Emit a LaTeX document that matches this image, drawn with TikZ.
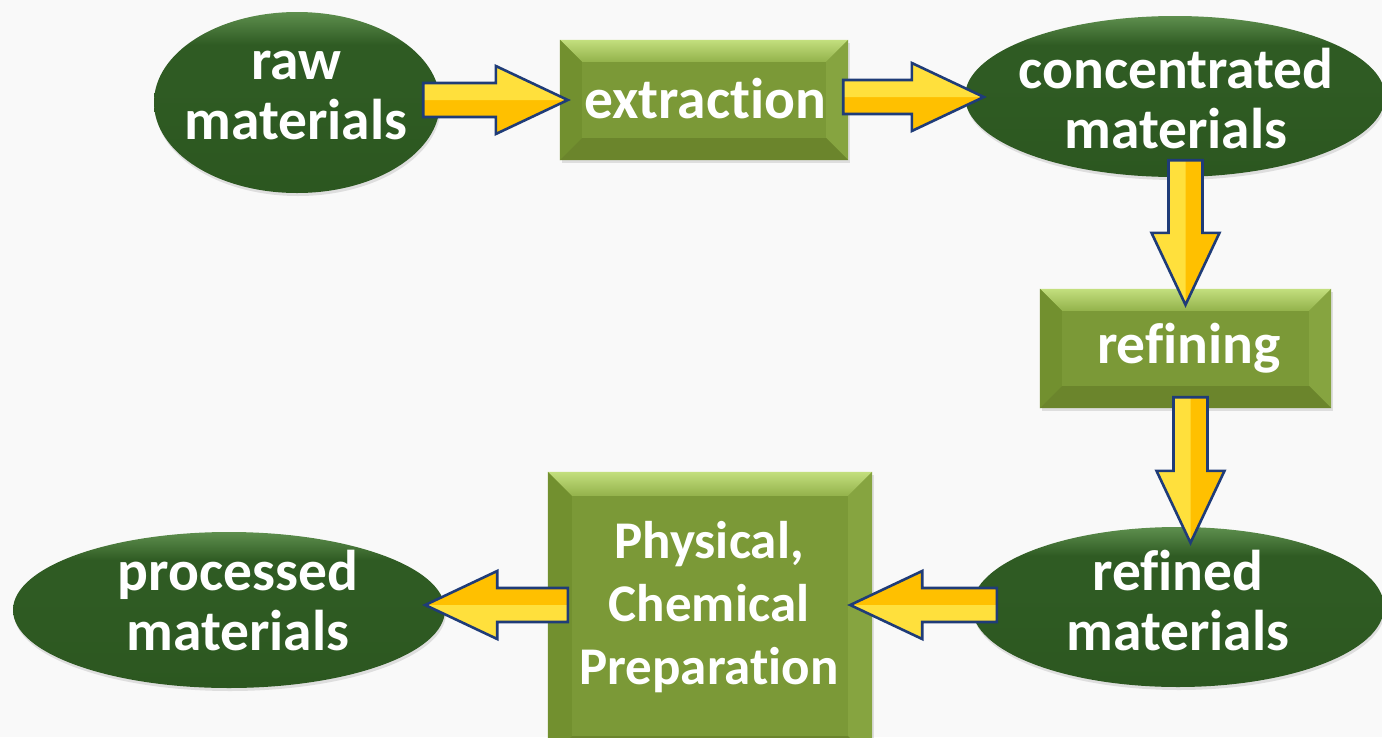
\documentclass[tikz,border=0pt]{standalone}
\usepackage{fontspec}
\setmainfont{Carlito}[RawFeature={-liga;-clig;-dlig}]
\usetikzlibrary{calc,shapes.geometric,shadows}
\definecolor{bg}{HTML}{F9F9F9}
\definecolor{ovtop}{HTML}{5E8F4E}
\definecolor{ovmid}{HTML}{2F5B23}
\definecolor{ovbot}{HTML}{2C5720}
\definecolor{boxface}{HTML}{7B9937}
\definecolor{boxtopA}{HTML}{C3DF7E}
\definecolor{boxtopB}{HTML}{93B24B}
\definecolor{boxleft}{HTML}{72902F}
\definecolor{boxright}{HTML}{86A440}
\definecolor{boxbot}{HTML}{6B852C}
\definecolor{argold}{HTML}{FFC000}
\definecolor{arlight}{HTML}{FFE03C}
\definecolor{arnavy}{HTML}{1F3C78}
\pgfdeclareverticalshading{ovsh}{100bp}{color(0bp)=(ovbot); color(25bp)=(ovbot); color(55bp)=(ovmid); color(66bp)=(ovmid); color(75bp)=(ovtop); color(100bp)=(ovtop)}
\newcommand\baPath[2]{($(#1)!17pt!90:(#2)$) -- ($(bah)!17pt!90:(#2)$) -- ($(bah)!34pt!90:(#2)$) -- (#2) -- ($(bah)!34pt!-90:(#2)$) -- ($(bah)!17pt!-90:(#2)$) -- ($(#1)!17pt!-90:(#2)$) -- cycle}
\newcommand\blockarr[3]{%
  \coordinate (bah) at ($(#2)!72pt!(#1)$);
  \fill[argold] \baPath{#1}{#2};
  \fill[arlight] (#1) -- ($(#1)!17pt!#3:(#2)$) -- ($(bah)!17pt!#3:(#2)$) -- ($(bah)!34pt!#3:(#2)$) -- (#2) -- cycle;
  \draw[arline] \baPath{#1}{#2};
}
\newcommand\bevel[2]{%
  \shade[top color=boxtopA, bottom color=boxtopB] (#1.north west) -- (#1.north east) -- ($(#1.north east)+(-#2,#2)$) -- ($(#1.north west)+(#2,#2)$) -- cycle;
  \fill[boxleft] (#1.north west) -- ($(#1.north west)+(#2,#2)$) -- ($(#1.south west)+(#2,-#2)$) -- (#1.south west) -- cycle;
  \fill[boxright] (#1.north east) -- ($(#1.north east)+(-#2,#2)$) -- ($(#1.south east)+(-#2,-#2)$) -- (#1.south east) -- cycle;
  \fill[boxbot] (#1.south west) -- ($(#1.south west)+(#2,-#2)$) -- ($(#1.south east)+(-#2,-#2)$) -- (#1.south east) -- cycle;
}
\newcommand\topstrut{\rule{0pt}{50pt}}
\begin{document}
\begin{tikzpicture}[x=1pt,y=-1pt,
  oval/.style={ellipse, inner sep=0pt, shading=ovsh,
    drop shadow={opacity=0.22, shadow xshift=1pt, shadow yshift=-3pt}},
  box/.style={rectangle, inner sep=0pt, fill=boxface,
    drop shadow={opacity=0.22, shadow xshift=2pt, shadow yshift=-3pt}},
  lbl/.style={text=white, inner sep=0pt, align=center, anchor=north,
    font=\fontsize{57.5}{60}\selectfont\bfseries},
  lblwide/.style={lbl, font=\fontsize{53}{63}\selectfont\bfseries},
  arline/.style={draw=arnavy, line width=2.6pt, line join=miter},
]
\useasboundingbox (0,0) rectangle (1382,737);
\fill[bg] (0,0) rectangle (1382,737);
\clip (0,0) rectangle (1382,737);

% shapes
\node[oval, minimum width=286pt, minimum height=181pt] (raw) at (297,102.5) {};
\node[box, minimum width=288pt, minimum height=120pt] (extr) at (704,100) {};
\node[oval, minimum width=420pt, minimum height=161pt] (conc) at (1175,96.5) {};
\node[box, minimum width=291pt, minimum height=119pt] (refin) at (1185.5,348.5) {};
\node[oval, minimum width=412pt, minimum height=160pt] (refd) at (1178,607) {};
\node[box, minimum width=324pt, minimum height=288pt] (phys) at (710,616) {};
\node[oval, minimum width=432pt, minimum height=156pt] (proc) at (229,610) {};

\bevel{extr}{22}
\bevel{refin}{22}
\bevel{phys}{24}

% labels
\node[lbl] (traw) at (296,29) {\topstrut raw\\materials};
\node[lbl] (textr) at (705,68) {\topstrut extraction};
\node[lbl] (tconc) at (1176,38) {\topstrut concentrated\\materials};
\node[lbl] (trefin) at (1189,313) {\topstrut refining};
\node[lbl] (trefd) at (1178,540) {\topstrut refined\\materials};
\node[lblwide] (tphys) at (709,508) {\topstrut Physical,\\Chemical\\Preparation};
\node[lbl] (tproc) at (238,540) {\topstrut processed\\materials};

% connectors
\coordinate (a1s) at ($(raw.east)+(-17,-2.5)$);
\coordinate (a1e) at ($(extr.west)+(8,0)$);
\blockarr{a1s}{a1e}{90}
\coordinate (a2s) at ($(extr.east)+(-5,-3)$);
\coordinate (a2e) at ($(conc.west)+(19,0.5)$);
\blockarr{a2s}{a2e}{90}
\coordinate (a3s) at ($(conc.south -| refin.north)+(0,-17)$);
\coordinate (a3e) at ($(refin.north)+(0,16)$);
\blockarr{a3s}{a3e}{-90}
\coordinate (a4s) at ($(refin.south)+(5,-11)$);
\coordinate (a4e) at ($(a4s |- refd.north)+(0,16)$);
\blockarr{a4s}{a4e}{-90}
\coordinate (a5s) at ($(refd.west)+(25,-2)$);
\coordinate (a5e) at ($(phys.east |- a5s)+(-22,0)$);
\blockarr{a5s}{a5e}{90}
\coordinate (a6s) at ($(phys.west |- a5s)+(20,0)$);
\coordinate (a6e) at ($(proc.east |- a5s)+(-20,0)$);
\blockarr{a6s}{a6e}{90}
\end{tikzpicture}
\end{document}
